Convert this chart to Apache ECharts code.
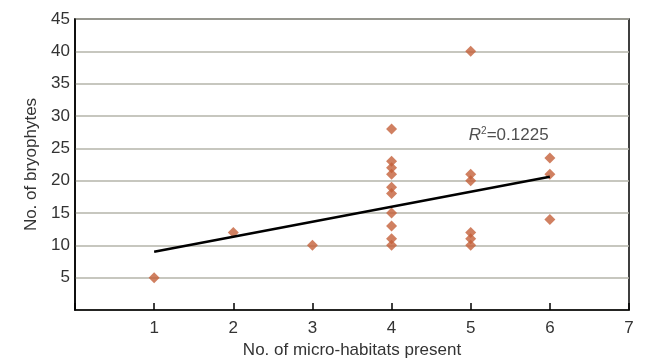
<!DOCTYPE html>
<html><head><meta charset="utf-8">
<script src="https://cdn.jsdelivr.net/npm/echarts@6/dist/echarts.min.js"></script>
<style>html,body{margin:0;padding:0;background:#fff}#c{width:649px;height:361px}</style>
</head><body><div id="c"></div>
<script>
const habitats = [1, 2, 3, 4, 4, 4, 4, 4, 4, 4, 4, 4, 4, 5, 5, 5, 5, 5, 5, 6, 6, 6];
const bryophytes = [5, 12, 10, 28, 23, 22, 21, 19, 18, 15, 13, 11, 10, 40, 21, 20, 12, 11, 10, 23.5, 21, 14];
const trendX = [1, 6];
const trendY = [9.0, 20.6];
const xTicks = [1, 2, 3, 4, 5, 6, 7];
const yTicks = [5, 10, 15, 20, 25, 30, 35, 40, 45];
const r2Label = '0.1225';
const r2Pos = [5.48, 27.0];

const chart = echarts.init(document.getElementById('c'));
const font = '"Liberation Sans", Arial, sans-serif';
const fs = 17;
chart.setOption({
  animation: false,
  grid: {left: 75, right: 20, top: 19, bottom: 51, outerBoundsMode: 'none', containLabel: false,
    show: true, borderColor: '#000', borderWidth: 1.5, backgroundColor: 'transparent'},
  xAxis: {
    type: 'value', min: 0, max: 7, interval: 1,
    name: 'No. of micro-habitats present', nameLocation: 'middle', nameGap: 32,
    nameTextStyle: {fontFamily: font, fontSize: fs, color: '#333'},
    axisLine: {lineStyle: {color: '#000', width: 1.5}},
    axisTick: {show: true, inside: true, length: 7, lineStyle: {color: '#000', width: 1.5}},
    splitLine: {show: false},
    axisLabel: {fontFamily: font, fontSize: fs, color: '#333', margin: 10,
      formatter: v => xTicks.includes(v) ? String(v) : ''}
  },
  yAxis: {
    type: 'value', min: 0, max: 45, interval: 5,
    name: 'No. of bryophytes', nameLocation: 'middle', nameGap: 35,
    nameTextStyle: {fontFamily: font, fontSize: fs, color: '#333'},
    axisLine: {show: true, lineStyle: {color: '#000', width: 1.5}},
    axisTick: {show: false},
    splitLine: {show: true, lineStyle: {color: '#b4b4aa', width: 1.5}},
    axisLabel: {fontFamily: font, fontSize: fs, color: '#333', margin: 5,
      formatter: v => yTicks.includes(v) ? String(v) : ''}
  },
  series: [
    {
      type: 'scatter', symbol: 'diamond', symbolSize: [11, 11],
      itemStyle: {color: '#c4603a'},
      data: habitats.map((x, i) => [x, bryophytes[i]]), z: 3
    },
    {
      type: 'line', symbol: 'none', lineStyle: {color: '#000', width: 2.5},
      data: trendX.map((x, i) => [x, trendY[i]]), z: 4
    },
    {
      type: 'scatter', symbolSize: 0, silent: true, z: 5,
      data: [r2Pos],
      label: {show: true, position: 'inside', fontFamily: font, fontSize: fs, color: '#222',
        formatter: '{i|R}{s|2}{n|=' + r2Label + '}',
        rich: {i: {fontStyle: 'italic', fontFamily: font, fontSize: fs, color: '#222'},
               s: {fontFamily: font, fontSize: 10, color: '#222', padding: [0, 0, 8, 0]},
               n: {fontFamily: font, fontSize: fs, color: '#222'}}}
    }
  ]
});
</script></body></html>
